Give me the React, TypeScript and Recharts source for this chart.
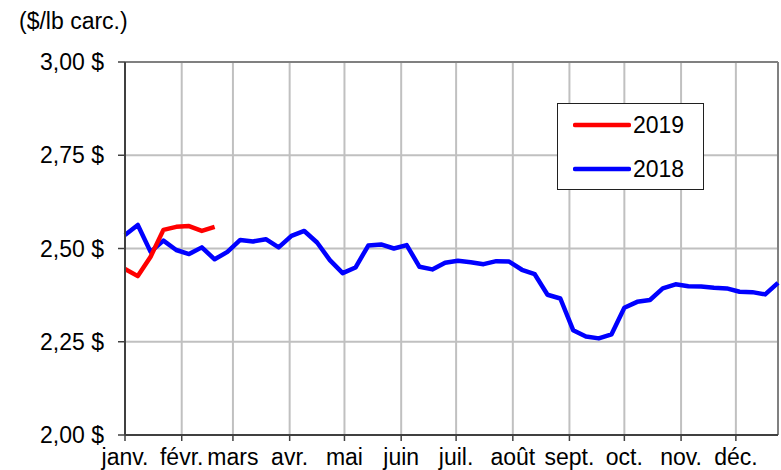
import React from 'react';
import {
  LineChart,
  Line,
  XAxis,
  YAxis,
  CartesianGrid,
  ReferenceLine,
} from 'recharts';

// Weekly prices, $/lb carcass
const prices2018 = [
  2.536, 2.563, 2.491, 2.521, 2.496, 2.485, 2.503, 2.471, 2.491, 2.523,
  2.519, 2.525, 2.503, 2.534, 2.547, 2.516, 2.469, 2.434, 2.449, 2.508,
  2.511, 2.5, 2.509, 2.451, 2.444, 2.462, 2.467, 2.463, 2.458, 2.466,
  2.465, 2.443, 2.431, 2.376, 2.366, 2.281, 2.264, 2.259, 2.27, 2.341,
  2.357, 2.362, 2.393, 2.404, 2.399, 2.398, 2.395, 2.393, 2.384, 2.383,
  2.377, 2.408,
];
const prices2019 = [2.445, 2.426, 2.478, 2.55, 2.558, 2.56, 2.547, 2.558];

// month starts, in weeks from Jan 1
const monthTicks = [0, 4.43, 8.43, 12.86, 17.14, 21.57, 25.86, 30.29, 34.71, 39, 43.43, 47.71];
const monthLabels = ['janv.', 'févr.', 'mars', 'avr.', 'mai', 'juin', 'juil.', 'août', 'sept.', 'oct.', 'nov.', 'déc.'];
const priceTicks = [2, 2.25, 2.5, 2.75, 3];

const series = [
  { key: 'y2019', name: '2019', color: '#FF0000' },
  { key: 'y2018', name: '2018', color: '#0000FF' },
];

const data = prices2018.map((v, i) => ({
  week: i,
  y2018: v,
  y2019: i < prices2019.length ? prices2019[i] : undefined,
}));

const FONT = '"Liberation Sans", Arial, sans-serif';
const FONT_SIZE = 23;

const fmtPrice = (v: number) => v.toFixed(2).replace('.', ',') + ' $';
const fmtMonth = (v: number) => monthLabels[monthTicks.indexOf(v)] ?? '';

export default function App() {
  return (
    <div style={{ position: 'absolute', left: 0, top: 0, width: 781, height: 470, background: '#fff', fontFamily: FONT }}>
      <div style={{ position: 'absolute', left: 19, top: 7, fontSize: FONT_SIZE, color: '#000', lineHeight: '28px' }}>
        ($/lb carc.)
      </div>
      <LineChart
        width={781}
        height={470}
        data={data}
        margin={{ top: 62, right: 3, bottom: 0, left: 0 }}
      >
        <CartesianGrid stroke="#c0c0c0" strokeWidth={2} />
        <XAxis
          dataKey="week"
          type="number"
          domain={[0, 51]}
          ticks={monthTicks}
          interval={0}
          height={35}
          tickFormatter={fmtMonth}
          axisLine={{ stroke: '#404040', strokeWidth: 2 }}
          tickLine={{ stroke: '#404040', strokeWidth: 1.5 }}
          tickSize={6}
          tickMargin={8}
          tick={{ fill: '#000', fontSize: FONT_SIZE, fontFamily: FONT }}
        />
        <YAxis
          type="number"
          domain={[2, 3]}
          ticks={priceTicks}
          interval={0}
          width={125}
          tickFormatter={fmtPrice}
          axisLine={{ stroke: '#404040', strokeWidth: 2 }}
          tickLine={{ stroke: '#404040', strokeWidth: 1.5 }}
          tickSize={7}
          tickMargin={14}
          tick={{ fill: '#000', fontSize: FONT_SIZE, fontFamily: FONT }}
        />
        <ReferenceLine y={3} stroke="#808080" strokeWidth={2} />
        <ReferenceLine x={51} stroke="#808080" strokeWidth={2} />
        <Line
          dataKey="y2018"
          type="linear"
          stroke="#0000FF"
          strokeWidth={4.5}
          strokeLinejoin="round"
          dot={false}
          isAnimationActive={false}
        />
        <Line
          dataKey="y2019"
          type="linear"
          stroke="#FF0000"
          strokeWidth={4.5}
          strokeLinejoin="round"
          dot={false}
          connectNulls={false}
          isAnimationActive={false}
        />
      </LineChart>
      <div
        style={{
          position: 'absolute',
          left: 557,
          top: 103,
          width: 145,
          height: 85,
          border: '1px solid #202020',
          background: '#fff',
        }}
      >
        {series.map((s, i) => (
          <div
            key={s.key}
            style={{ position: 'absolute', left: 15, top: 7 + i * 44, height: 28, display: 'flex', alignItems: 'center' }}
          >
            <svg width={58} height={10} style={{ display: 'block' }}>
              <line x1={2} y1={5} x2={56} y2={5} stroke={s.color} strokeWidth={4.5} strokeLinecap="round" />
            </svg>
            <span style={{ fontSize: FONT_SIZE, marginLeft: 2, color: '#000', lineHeight: '28px' }}>{s.name}</span>
          </div>
        ))}
      </div>
    </div>
  );
}
